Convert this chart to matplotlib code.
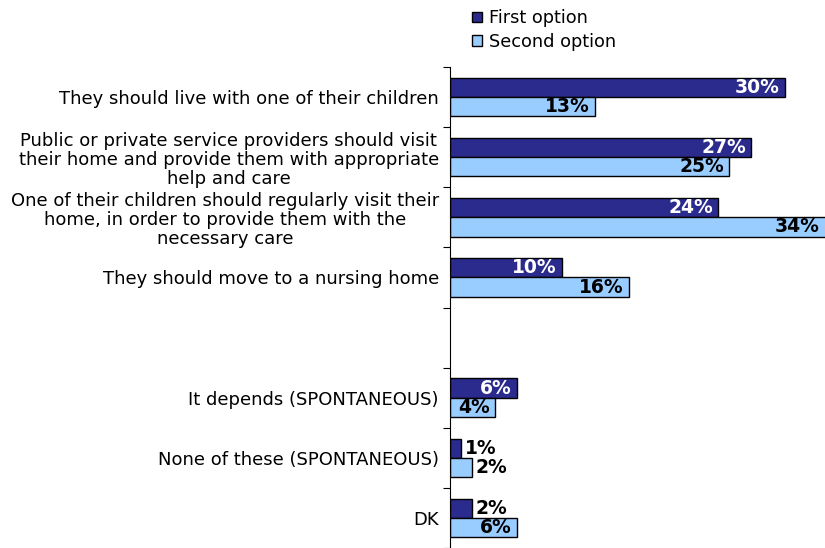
import numpy as np
import matplotlib.pyplot as plt
from matplotlib.patches import Patch

categories = ["They should live with one of their children",
              "Public or private service providers should visit\ntheir home and provide them with appropriate\nhelp and care",
              "One of their children should regularly visit their\nhome, in order to provide them with the\nnecessary care",
              "They should move to a nursing home",
              "",
              "It depends (SPONTANEOUS)",
              "None of these (SPONTANEOUS)",
              "DK"]
first = [30, 27, 24, 10, None, 6, 1, 2]
second = [13, 25, 34, 16, None, 4, 2, 6]
series_names = ["First option", "Second option"]

c1 = '#2B2B8E'
c2 = '#99CCFF'

fig = plt.figure(figsize=(8.25, 5.48), dpi=100)
ax = fig.add_axes([450/825, 0, 375/825, (548-67)/548])

y = np.arange(len(categories))
h = 0.32
xmax = 33.6

for i in range(len(categories)):
    if first[i] is None:
        continue
    for v, off, col, tcol in [(first[i], -h/2, c1, 'white'), (second[i], h/2, c2, 'black')]:
        ax.barh(y[i] + off, v, height=h, color=col, edgecolor='black', linewidth=1)
        if v >= 4:
            ax.text(min(v, xmax) - 0.45, y[i] + off, f"{v}%", ha='right', va='center',
                    color=tcol, fontsize=13.5, fontweight='bold')
        else:
            ax.text(v + 0.3, y[i] + off, f"{v}%", ha='left', va='center',
                    color='black', fontsize=13.5, fontweight='bold')

ax.set_xlim(0, xmax)
ax.set_ylim(7.82 - 0.5, -0.5)
ax.set_xticks([])
ax.set_yticks(np.arange(-0.5, 7.6, 1))
ax.set_yticklabels([])
ax.tick_params(axis='y', which='major', length=5, direction='out')
ax.set_yticks(y, minor=True)
ax.set_yticklabels(categories, minor=True, fontsize=13)
ax.tick_params(axis='y', which='minor', length=0, pad=8)
for lab in ax.get_yticklabels(minor=True):
    lab.set_multialignment('center')
    lab.set_linespacing(1.08)

for s in ['top', 'right', 'bottom']:
    ax.spines[s].set_visible(False)

handles = [Patch(facecolor=c1, edgecolor='black'), Patch(facecolor=c2, edgecolor='black')]
fig.legend(handles, series_names, loc='upper left', bbox_to_anchor=(456/825, 1.012),
           frameon=False, fontsize=12.8, handlelength=0.55, handleheight=0.55,
           handletextpad=0.4, labelspacing=0.3)

fig.savefig('out.png', dpi=100)
